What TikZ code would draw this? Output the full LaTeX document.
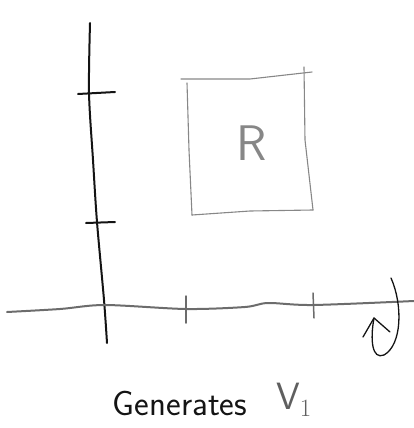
\documentclass[tikz,border=0pt]{standalone}
\usepackage{tikz}
\usetikzlibrary{positioning}
\definecolor{pencil}{RGB}{20,20,20}
\definecolor{lead}{RGB}{135,135,135}

\begin{document}
\begin{tikzpicture}[x=1pt,y=-1pt, line cap=round, line join=round]
  \useasboundingbox (0,0) rectangle (414,428);

  % vertical axis
  \draw[pencil, line width=2pt] plot[smooth] coordinates
    {(90,23) (89,93) (93,160) (97,222) (104,300) (107,343)};
  \draw[pencil, line width=2pt] (78,94) -- (115,92);
  \draw[pencil, line width=2pt] (86,223) -- (115,222);

  % horizontal axis
  \draw[lead!80!black, line width=2pt] plot[smooth] coordinates
    {(7,312) (60,309) (105,305) (186,309) (245,307) (268,303) (313,305) (414,301)};
  \draw[lead!80!black, line width=1.5pt] (186,296) -- (186,323);
  \draw[lead!80!black, line width=1.5pt] (313,293) -- (314,318);

  % region
  \draw[lead, line width=1.1pt] (181,79) -- (250,79) -- (312,72);
  \draw[lead, line width=1.1pt] (304,67) -- (305,140) -- (313,210);
  \draw[lead, line width=1.1pt] (187,83) -- (189,150) -- (192,215);
  \draw[lead, line width=1.1pt] (192,215) -- (250,211) -- (313,210);
  \node[lead, font=\sffamily\fontsize{50}{50}\selectfont] (reg) at (252,143) {R};

  % rotation about the axis
  \draw[pencil, line width=1.3pt] (391,278) .. controls (403,305) and (402,345) .. (384,355)
    .. controls (372,360) and (370,340) .. (374,318);
  \draw[pencil, line width=1.3pt] (363,337) -- (374,318) -- (390,332);

  % caption
  \node[pencil, font=\sffamily\fontsize{35}{35}\selectfont] (gen) at (180,403) {Generates};
  \node[lead!70!black, font=\sffamily\fontsize{38}{38}\selectfont, right=22pt of gen, yshift=3pt] (vone) {V$_1$};

\end{tikzpicture}
\end{document}
